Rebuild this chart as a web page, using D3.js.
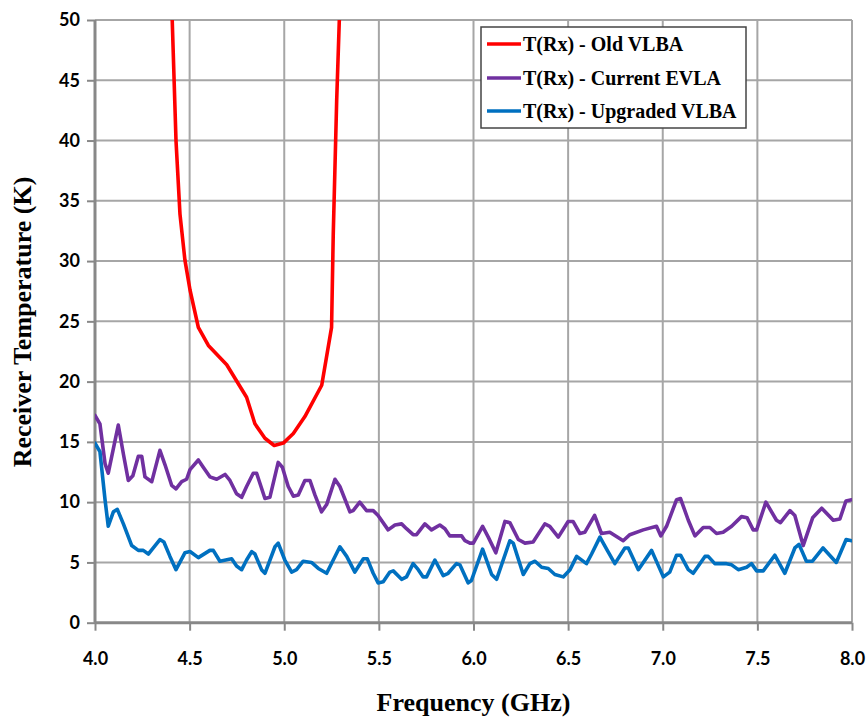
<!DOCTYPE html>
<html><head><meta charset="utf-8">
<script src="https://cdn.jsdelivr.net/npm/d3@7"></script>
<style>body{margin:0;background:#fff}svg{display:block}</style>
</head><body>
<svg id="c" width="868" height="718"></svg>
<script>
const xTicks = [4.0,4.5,5.0,5.5,6.0,6.5,7.0,7.5,8.0];
const yTicks = [0,5,10,15,20,25,30,35,40,45,50];
const seriesNames = ["T(Rx) - Old VLBA","T(Rx) - Current EVLA","T(Rx) - Upgraded VLBA"];
const seriesColors = ["#ff0000","#7030a0","#0070c0"];

const oldVLBA = [
[4.400,52],[4.408,50],[4.428,40.0],[4.449,33.9],[4.475,30.1],[4.502,27.6],[4.546,24.5],[4.599,23.0],
[4.696,21.4],[4.801,18.7],[4.845,16.5],[4.898,15.3],[4.947,14.7],[4.995,14.9],[5.048,15.7],
[5.109,17.1],[5.198,19.7],[5.250,24.5],[5.259,32.3],[5.277,43.3],[5.291,50],[5.294,52]];

const currentEVLA = [
[4.000,17.2],[4.026,16.5],[4.053,13.2],[4.070,12.4],[4.123,16.4],[4.150,14.0],[4.176,11.8],[4.200,12.2],
[4.229,13.8],[4.247,13.8],[4.264,12.1],[4.300,11.7],[4.343,14.3],[4.370,13.1],[4.405,11.4],[4.428,11.1],
[4.458,11.7],[4.484,11.9],[4.502,12.7],[4.546,13.5],[4.572,12.9],[4.607,12.1],[4.643,11.9],[4.687,12.3],
[4.713,11.8],[4.748,10.7],[4.775,10.4],[4.801,11.3],[4.836,12.4],[4.854,12.4],[4.898,10.3],[4.924,10.4],
[4.968,13.3],[4.990,12.9],[5.021,11.3],[5.048,10.5],[5.074,10.6],[5.109,11.8],[5.136,11.8],[5.162,10.6],
[5.197,9.2],[5.224,9.8],[5.268,11.9],[5.294,11.3],[5.347,9.2],[5.364,9.3],[5.399,10.0],[5.435,9.3],
[5.470,9.3],[5.496,8.9],[5.549,7.7],[5.585,8.1],[5.620,8.2],[5.646,7.8],[5.681,7.3],[5.699,7.3],
[5.743,8.2],[5.778,7.7],[5.822,8.1],[5.849,7.8],[5.875,7.2],[5.937,7.2],[5.955,6.8],[5.981,6.6],
[5.999,6.6],[6.048,8.0],[6.078,7.1],[6.118,5.8],[6.166,8.4],[6.192,8.3],[6.237,6.9],[6.272,6.6],
[6.315,6.7],[6.377,8.2],[6.403,8.0],[6.448,7.1],[6.500,8.4],[6.526,8.4],[6.562,7.4],[6.588,7.5],
[6.640,8.9],[6.676,7.4],[6.720,7.5],[6.791,6.8],[6.826,7.3],[6.897,7.7],[6.967,8.0],[6.990,7.2],
[7.020,8.0],[7.073,10.2],[7.094,10.3],[7.135,8.5],[7.170,7.2],[7.214,7.9],[7.249,7.9],[7.284,7.4],
[7.319,7.5],[7.364,8.0],[7.416,8.8],[7.446,8.7],[7.478,7.7],[7.496,7.7],[7.545,10.0],[7.601,8.5],
[7.622,8.3],[7.672,9.3],[7.698,8.9],[7.742,6.4],[7.792,8.7],[7.840,9.5],[7.901,8.5],[7.936,8.6],
[7.968,10.1],[7.998,10.2]];

const upgradedVLBA = [
[4.000,14.9],[4.026,14.2],[4.053,10.2],[4.070,8.0],[4.097,9.2],[4.118,9.4],[4.150,8.2],[4.194,6.4],
[4.229,6.0],[4.255,6.0],[4.282,5.7],[4.308,6.2],[4.343,6.9],[4.364,6.7],[4.396,5.5],[4.428,4.4],
[4.475,5.8],[4.502,5.9],[4.546,5.4],[4.607,6.0],[4.625,6.0],[4.660,5.1],[4.722,5.3],[4.748,4.7],
[4.775,4.4],[4.801,5.2],[4.828,5.9],[4.845,5.7],[4.880,4.4],[4.898,4.1],[4.951,6.3],[4.968,6.6],
[5.003,5.2],[5.039,4.2],[5.065,4.4],[5.100,5.1],[5.144,5.0],[5.180,4.5],[5.224,4.1],[5.259,5.2],
[5.294,6.3],[5.330,5.5],[5.373,4.2],[5.418,5.3],[5.439,5.3],[5.470,4.1],[5.496,3.3],[5.523,3.4],
[5.558,4.2],[5.576,4.3],[5.620,3.6],[5.646,3.8],[5.681,4.9],[5.708,4.4],[5.734,3.8],[5.752,3.8],
[5.796,5.2],[5.840,3.9],[5.866,4.1],[5.910,4.9],[5.928,4.8],[5.972,3.3],[5.989,3.5],[6.048,6.1],
[6.096,4.0],[6.122,3.6],[6.192,6.8],[6.210,6.6],[6.263,4.0],[6.298,4.9],[6.325,5.1],[6.360,4.6],
[6.395,4.5],[6.430,4.0],[6.474,3.8],[6.510,4.4],[6.545,5.5],[6.597,4.9],[6.624,5.7],[6.668,7.1],
[6.707,6.0],[6.747,4.9],[6.800,6.2],[6.818,6.2],[6.871,4.4],[6.941,6.0],[7.003,3.8],[7.037,4.2],
[7.073,5.6],[7.094,5.6],[7.135,4.4],[7.161,4.1],[7.223,5.5],[7.240,5.5],[7.275,4.9],[7.337,4.9],
[7.364,4.8],[7.399,4.4],[7.443,4.6],[7.469,4.9],[7.496,4.3],[7.531,4.3],[7.592,5.6],[7.645,4.1],
[7.698,6.2],[7.720,6.5],[7.759,5.1],[7.791,5.1],[7.847,6.2],[7.917,5.0],[7.969,6.9],[7.998,6.8]];

const series = [oldVLBA, currentEVLA, upgradedVLBA];

const svg = d3.select("#c");
const L = 95, R = 852, T = 20, B = 622.7;
const x = d3.scaleLinear().domain([4,8]).range([L,R]);
const y = d3.scaleLinear().domain([0,50]).range([B,T]);

svg.append("defs").append("clipPath").attr("id","clip")
  .append("rect").attr("x",L).attr("y",T).attr("width",R-L).attr("height",B-T);

// gridlines
const g = svg.append("g");
g.selectAll(".hg").data(yTicks.filter(d=>d>0)).join("line")
  .attr("x1",L).attr("x2",R).attr("y1",d=>y(d)).attr("y2",d=>y(d))
  .attr("stroke","#a6a6a6").attr("stroke-width",2);
g.selectAll(".vg").data(xTicks.filter(d=>d>4)).join("line")
  .attr("x1",d=>x(d)).attr("x2",d=>x(d)).attr("y1",T).attr("y2",B)
  .attr("stroke","#a6a6a6").attr("stroke-width",2);

// axes
const yAxis = d3.axisLeft(y).tickValues(yTicks).tickSize(8).tickPadding(7).tickFormat(d3.format("d"));
const xAxis = d3.axisBottom(x).tickValues(xTicks).tickSize(8).tickPadding(22).tickFormat(d3.format(".1f"));
const ya = svg.append("g").attr("transform",`translate(${L},0)`).call(yAxis);
const xa = svg.append("g").attr("transform",`translate(0,${B})`).call(xAxis);
[ya,xa].forEach(a=>{
  a.select(".domain").attr("stroke","#888").attr("stroke-width",3);
  a.selectAll(".tick line").attr("stroke","#888").attr("stroke-width",2);
  a.selectAll(".tick text").attr("fill","#000").style("font-family","Lato, 'Open Sans', sans-serif")
   .style("font-weight","bold").style("font-size","18px");
});
ya.select(".domain").attr("d",`M0,${T}V${B}`);
xa.select(".domain").attr("d",`M${L},0H${R}`);

// lines
const line = d3.line().x(d=>x(d[0])).y(d=>y(d[1]));
const lg = svg.append("g").attr("clip-path","url(#clip)");
series.forEach((s,i)=>{
  lg.append("path").datum(s).attr("d",line).attr("fill","none")
    .attr("stroke",seriesColors[i]).attr("stroke-width",3.6)
    .attr("stroke-linejoin","round").attr("stroke-linecap","round");
});

// titles
svg.append("text").attr("x",(L+R)/2 - 0).attr("y",711).attr("text-anchor","middle")
  .style("font-family","'Liberation Serif', 'Times New Roman', serif").style("font-weight","bold")
  .style("font-size","26px").text("Frequency (GHz)");
svg.append("text").attr("transform","translate(31,322) rotate(-90)").attr("text-anchor","middle")
  .style("font-family","'Liberation Serif', 'Times New Roman', serif").style("font-weight","bold")
  .style("font-size","26px").text("Receiver Temperature (K)");

// legend
const leg = svg.append("g");
leg.append("rect").attr("x",481).attr("y",27).attr("width",265).attr("height",101)
  .attr("fill","#fff").attr("stroke","#444").attr("stroke-width",1.5);
const rowY = [44,78,111];
seriesNames.forEach((n,i)=>{
  leg.append("line").attr("x1",487).attr("x2",521).attr("y1",rowY[i]).attr("y2",rowY[i])
    .attr("stroke",seriesColors[i]).attr("stroke-width",3.6);
  leg.append("text").attr("x",523).attr("y",rowY[i]+7)
    .style("font-family","'Liberation Serif', 'Times New Roman', serif").style("font-weight","bold")
    .style("font-size","20px").attr("fill","#000").text(n);
});
</script>
</body></html>
